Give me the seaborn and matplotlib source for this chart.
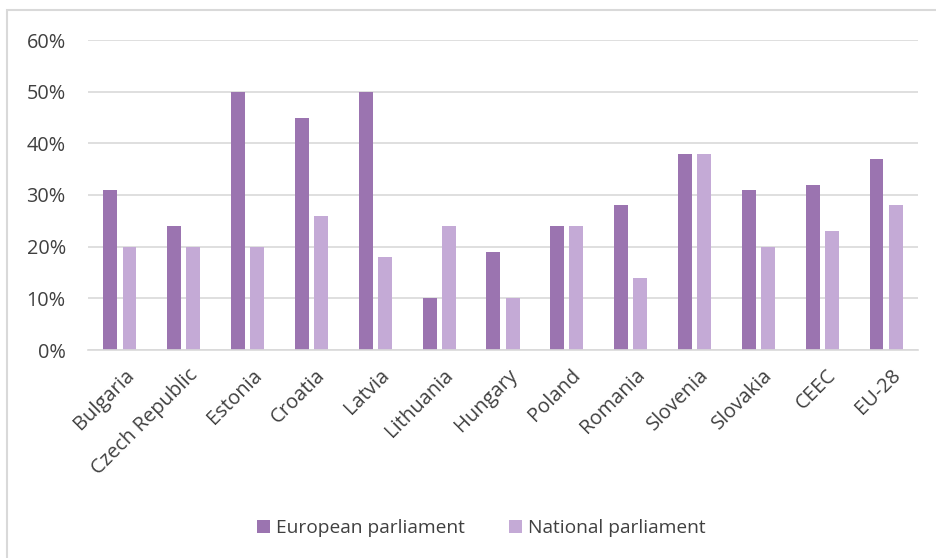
import matplotlib
matplotlib.use("Agg")
import matplotlib.pyplot as plt
from matplotlib.patches import Rectangle, Patch
from matplotlib.ticker import PercentFormatter
from matplotlib.transforms import ScaledTranslation
import pandas as pd
import seaborn as sns

countries = ["Bulgaria", "Czech Republic", "Estonia", "Croatia", "Latvia",
             "Lithuania", "Hungary", "Poland", "Romania", "Slovenia",
             "Slovakia", "CEEC", "EU-28"]
european = [31, 24, 50, 45, 50, 10, 19, 24, 28, 38, 31, 32, 37]
national = [20, 20, 20, 26, 18, 24, 10, 24, 14, 38, 20, 23, 28]
series = ["European parliament", "National parliament"]
colors = ["#9B74B0", "#C4AAD6"]
y_ticks = [0, 10, 20, 30, 40, 50, 60]

df = pd.DataFrame({
    "country": countries * 2,
    "share": european + national,
    "body": [series[0]] * len(countries) + [series[1]] * len(countries),
})

sns.set_theme(style="white")
plt.rcParams["font.family"] = ["Open Sans", "DejaVu Sans"]
text_color = "#404040"
grid_color = "#D9D9D9"

fig = plt.figure(figsize=(9.37, 5.58), dpi=100)
W, H = 937, 558
ax = fig.add_axes([88 / W, 1 - 350 / H, (918 - 88) / W, (350 - 40) / H])

sns.barplot(data=df, x="country", y="share", hue="body", order=countries,
            hue_order=series, palette=colors, width=0.6, gap=0.27,
            saturation=1, linewidth=0, edgecolor="none", ax=ax, legend=False)

ax.set_ylim(0, 60)
ax.set_xlim(-0.5, len(countries) - 0.5)
ax.set_yticks(y_ticks)
ax.yaxis.set_major_formatter(PercentFormatter(decimals=0))
ax.set_xlabel("")
ax.set_ylabel("")
ax.grid(axis="y", color=grid_color, linewidth=1.2)
ax.set_axisbelow(True)
for side in ["top", "right", "left"]:
    ax.spines[side].set_visible(False)
ax.spines["bottom"].set_color(grid_color)
ax.spines["bottom"].set_linewidth(1.2)
ax.tick_params(axis="y", length=0, pad=16, labelsize=14.3, labelcolor=text_color)
ax.tick_params(axis="x", length=0, pad=11, labelsize=14.5, labelcolor=text_color)
shift = ScaledTranslation(4 / 100, 0, fig.dpi_scale_trans)
for lbl in ax.get_xticklabels():
    lbl.set_rotation(45)
    lbl.set_ha("right")
    lbl.set_rotation_mode("anchor")
    lbl.set_transform(lbl.get_transform() + shift)

# chart frame
fig.patches.append(Rectangle((7 / W, -0.1), 1.2, 1 - 10 / H + 0.1,
                             transform=fig.transFigure, fill=False,
                             edgecolor=grid_color, linewidth=1.5))

handles = [Patch(facecolor=c, edgecolor="none") for c in colors]
fig.legend(handles, series, loc="center", bbox_to_anchor=(481 / W, 1 - 528 / H),
           ncol=2, frameon=False, fontsize=13.8, handlelength=0.7, handleheight=0.7,
           handletextpad=0.3, columnspacing=2.3, labelcolor=text_color)

fig.savefig("out.png", dpi=100)
